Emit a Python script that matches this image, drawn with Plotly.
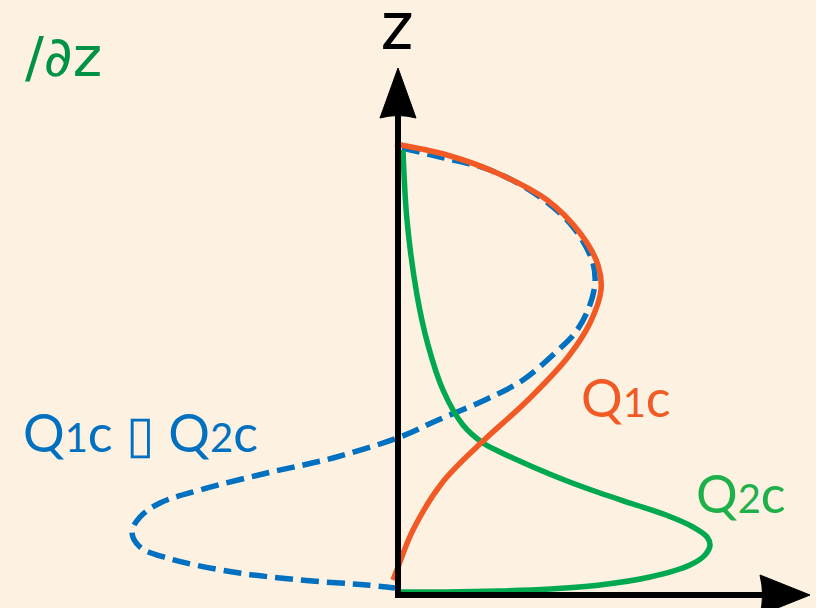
import plotly.graph_objects as go

# curves: x = horizontal amount, z = height (same px-like units)
q1c_x = [-3, 49, 99, 149, 182, 200, 203, 192, 170, 130, 84, 44, 15, 0, -5]
q1c_z = [451, 440, 422, 395, 362, 330, 305, 272, 238, 195, 153, 112, 65, 28, 15]

q2c_x = [5, 9, 19, 30, 45, 65, 85, 102, 135, 169, 202, 235, 268, 295, 309, 312, 307, 292,
         252, 202, 152, 102, 49, 0]
q2c_z = [445, 375, 300, 250, 205, 170, 152, 143, 128, 114, 102, 91, 80, 68, 58, 50, 40, 30,
         18, 10, 6, 4, 3, 3]

diff_x = [4, 42, 92, 142, 175, 194, 197, 190, 177, 157, 125, 87, 40, 2, -65, -131,
          -198, -238, -258, -266, -258, -231, -165, -98, -31, -3]
diff_z = [447, 438, 425, 398, 368, 335, 312, 285, 262, 242, 215, 195, 175, 158, 137, 122,
          105, 92, 78, 63, 48, 37, 23, 15, 10, 7]

BG = "#FDF1E1"
ORANGE = "#F15A24"
GREEN = "#00A84F"
BLUE = "#0070C0"

fig = go.Figure()

fig.add_trace(go.Scatter(x=diff_x, y=diff_z, mode="lines", line_shape="spline",
                         line=dict(color=BLUE, width=5.5, dash="18px,8px")))
fig.add_trace(go.Scatter(x=q2c_x, y=q2c_z, mode="lines", line_shape="spline",
                         line=dict(color=GREEN, width=5.5)))
fig.add_trace(go.Scatter(x=q1c_x, y=q1c_z, mode="lines", line_shape="spline",
                         line=dict(color=ORANGE, width=5.5)))

# axes with arrow heads
fig.add_shape(type="line", x0=0, y0=-3, x1=0, y1=480, line=dict(color="black", width=6))
fig.add_shape(type="line", x0=-3, y0=0, x1=365, y1=0, line=dict(color="black", width=6))
fig.add_shape(type="path", path="M 0 527 L -18 477 Q 0 482 18 477 Z",
              fillcolor="black", line=dict(color="black", width=1))
fig.add_shape(type="path", path="M 412 0 L 362 20 Q 367 0 362 -20 Z",
              fillcolor="black", line=dict(color="black", width=1))

font = "Lato"
sub = "<span style='font-size:40px'>{}</span>"
fig.add_annotation(x=-1, y=574, text="z", showarrow=False,
                   font=dict(family=font, size=72, color="black"))
fig.add_annotation(x=-375, y=539, text="/∂z", showarrow=False, xanchor="left",
                   font=dict(family="DejaVu Sans", size=56, color="#009245"))
fig.add_annotation(x=-377, y=163, text="Q" + sub.format("1") + "c ▯ Q" + sub.format("2") + "c",
                   showarrow=False, xanchor="left",
                   font=dict(family=font, size=52, color=BLUE))
fig.add_annotation(x=228, y=198, text="Q" + sub.format("1") + "c", showarrow=False,
                   font=dict(family=font, size=52, color=ORANGE))
fig.add_annotation(x=343, y=102, text="Q" + sub.format("2") + "c", showarrow=False,
                   font=dict(family=font, size=52, color="#1DB04B"))

fig.update_layout(width=816, height=608, margin=dict(l=0, r=0, t=0, b=0),
                  paper_bgcolor=BG, plot_bgcolor=BG, showlegend=False,
                  xaxis=dict(range=[-398, 418], visible=False, fixedrange=True),
                  yaxis=dict(range=[-13, 595], visible=False, fixedrange=True))

fig.write_html("out.html", config={"displayModeBar": False},
               post_script="document.body.style.margin='0';")
